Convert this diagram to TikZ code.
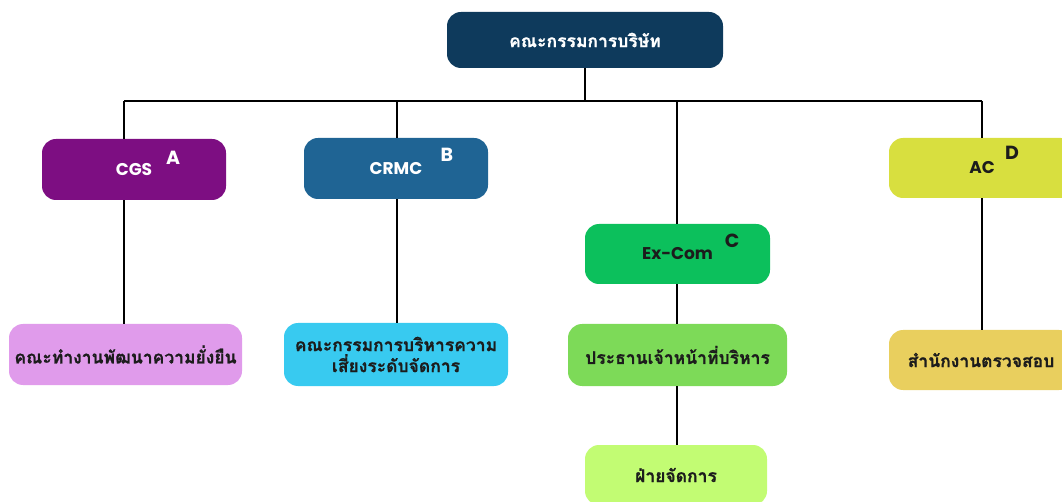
\documentclass[tikz,border=0pt]{standalone}
\usepackage{fontspec}
\setmainfont{Poppins}
\newfontfamily\thaifont[Script=Thai, BoldFeatures={FakeBold=0.8}]{Loma}
\usetikzlibrary{positioning}
\definecolor{navy}{HTML}{0E3A5C}
\definecolor{plum}{HTML}{7D0E82}
\definecolor{steel}{HTML}{1F6494}
\definecolor{emerald}{HTML}{0CC05C}
\definecolor{citron}{HTML}{D8DF3F}
\definecolor{orchid}{HTML}{E09BEB}
\definecolor{sky}{HTML}{38CAF0}
\definecolor{leaf}{HTML}{7DDA58}
\definecolor{gold}{HTML}{E9CF5E}
\definecolor{lime}{HTML}{C2FC73}
\definecolor{ink}{HTML}{1C1C1C}
\tikzset{
  box/.style={rounded corners=14pt, inner sep=0pt, align=center, text=ink},
  thai/.style={font=\thaifont\bfseries\fontsize{17.5}{21}\selectfont},
  latin/.style={font=\bfseries\fontsize{17}{20}\selectfont},
  tag/.style={font=\bfseries\fontsize{19}{20}\selectfont, inner sep=0pt},
  link/.style={line width=2pt, black}
}

\begin{document}
\begin{tikzpicture}[x=1pt, y=-1pt]
    \useasboundingbox (0,0) rectangle (1062,502);
    \clip (0,0) rectangle (1062,502);

    % Board
    \node[box, thai, fill=navy, text=white, minimum width=276pt, minimum height=56pt] (board) at (585,40) {คณะกรรมการบริษัท};

    % Committees
    \node[box, latin, fill=plum, text=white, minimum width=184pt, minimum height=61pt] (cgs) at (134,169.5) {CGS};
    \node[box, latin, fill=steel, text=white, minimum width=184pt, minimum height=61pt] (crmc) at (396,168.5) {CRMC};
    \node[box, latin, fill=emerald, minimum width=185pt, minimum height=60pt] (excom) at (677.5,254) {Ex-Com};
    \node[box, latin, fill=citron, minimum width=186pt, minimum height=60pt] (ac) at (982,168) {AC};

    \node[tag, text=white] (tagA) at (173,158) {A};
    \node[tag, text=white] (tagB) at (447,155) {B};
    \node[tag, text=ink] (tagC) at (732,241) {C};
    \node[tag, text=ink] (tagD) at (1012,153) {D};

    % Working units
    \node[box, thai, fill=orchid, minimum width=233pt, minimum height=61pt] (team) at (125.5,354.5) {คณะทำงานพัฒนาความยั่งยืน};
    \node[box, thai, fill=sky, minimum width=224pt, minimum height=63pt] (risk) at (396,354.5) {คณะกรรมการบริหารความ\\เสี่ยงระดับจัดการ};
    \node[box, thai, fill=leaf, minimum width=219pt, minimum height=62pt] (ceo) at (677.5,355) {ประธานเจ้าหน้าที่บริหาร};
    \node[box, thai, fill=gold, minimum width=184pt, minimum height=60pt] (audit) at (981,360) {สำนักงานตรวจสอบ};
    \node[box, thai, fill=lime, minimum width=182pt, minimum height=60pt] (mgmt) at (676,475) {ฝ่ายจัดการ};

    % Bus
    \coordinate (busA) at (124,101);
    \coordinate (busB) at (397,101);
    \coordinate (busC) at (677,101);
    \coordinate (busD) at (982,101);
    \draw[link] (busA) -- (busD);
    \draw[link] (board.south) -- (board.south |- busA);

    % Drops
    \draw[link] (busA) -- (busA |- cgs.north);
    \draw[link] (busA |- cgs.south) -- (busA |- team.north);
    \draw[link] (busB) -- (busB |- crmc.north);
    \draw[link] (busB |- crmc.south) -- (busB |- risk.north);
    \draw[link] (busC) -- (busC |- excom.north);
    \draw[link] (busC |- excom.south) -- (busC |- ceo.north);
    \draw[link] (busC |- ceo.south) -- (busC |- mgmt.north);
    \draw[link] (busD) -- (busD |- ac.north);
    \draw[link] (busD |- ac.south) -- (busD |- audit.north);
\end{tikzpicture}
\end{document}
